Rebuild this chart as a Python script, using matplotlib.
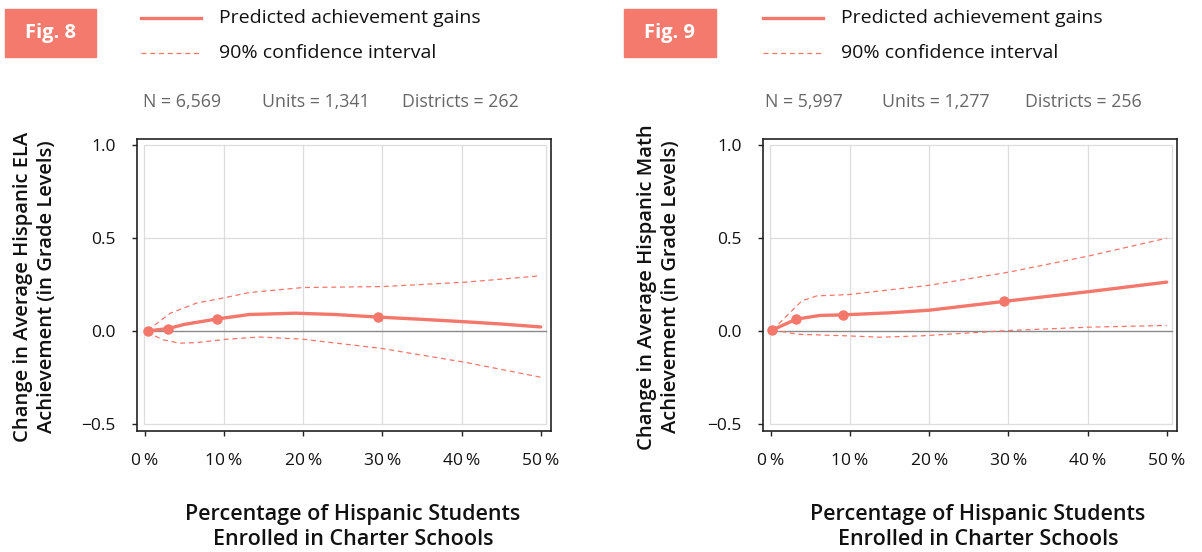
import numpy as np
import matplotlib
matplotlib.use("Agg")
from matplotlib import pyplot as plt
from matplotlib.patches import Rectangle

plt.rcParams['font.family'] = ['Open Sans', 'DejaVu Sans']

# ELA (Fig. 8)
ela_x = [0.4, 2.9, 5, 9.1, 13.2, 19, 24, 29.5, 35, 40, 45, 50]
ela_y = [0, 0.012, 0.035, 0.064, 0.088, 0.095, 0.088, 0.074, 0.062, 0.05, 0.037, 0.021]
ela_pts_x = [0.4, 2.9, 9.1, 29.5]
ela_pts_y = [0, 0.012, 0.064, 0.074]
ela_hi_x = [0.4, 1, 3.2, 6.5, 9.1, 13.2, 20, 30, 40.6, 50]
ela_hi_y = [0, 0.023, 0.095, 0.149, 0.17, 0.206, 0.233, 0.238, 0.262, 0.296]
ela_lo_x = [0.4, 1, 2.3, 4.4, 6.5, 10.3, 14.5, 20, 30, 40.6, 50]
ela_lo_y = [0, -0.022, -0.048, -0.066, -0.063, -0.045, -0.033, -0.045, -0.095, -0.17, -0.249]

# Math (Fig. 9)
math_x = [0.2, 3.2, 6.2, 9.1, 15, 20, 29.4, 40.2, 50]
math_y = [0.005, 0.063, 0.083, 0.086, 0.097, 0.111, 0.158, 0.211, 0.262]
math_pts_x = [0.2, 3.2, 9.1, 29.4]
math_pts_y = [0.005, 0.063, 0.086, 0.158]
math_hi_x = [0.2, 3.9, 5.8, 9.8, 20, 30.1, 40.2, 50]
math_hi_y = [0.005, 0.161, 0.188, 0.195, 0.245, 0.316, 0.403, 0.498]
math_lo_x = [0.2, 3.3, 9.8, 13.8, 18.9, 30.1, 40.2, 50]
math_lo_y = [0.005, -0.018, -0.027, -0.034, -0.027, 0.002, 0.020, 0.029]

xticks = [0, 10, 20, 30, 40, 50]
xtick_labels = ['0\u2009%', '10\u2009%', '20\u2009%', '30\u2009%', '40\u2009%', '50\u2009%']
yticks = [-0.5, 0.0, 0.5, 1.0]
ytick_labels = ['\u22120.5', '0.0', '0.5', '1.0']

salmon = '#F4776B'
W, H = 1202, 552

fig = plt.figure(figsize=(W / 100, H / 100), dpi=100)


def px(x, y):
    return x / W, 1 - y / H


panels = [
    dict(left=137, fig='Fig. 8', badge=(5, 96), leg=(141, 201, 219),
         stats=[(143, 'N = 6,569'), (262, 'Units = 1,341'), (402, 'Districts = 262')],
         ylab='Change in Average Hispanic ELA\nAchievement (in Grade Levels)', ylx=35, xlx=353,
         x=ela_x, y=ela_y, px_=ela_pts_x, py_=ela_pts_y,
         hx=ela_hi_x, hy=ela_hi_y, lx=ela_lo_x, ly=ela_lo_y),
    dict(left=763, fig='Fig. 9', badge=(624, 716), leg=(763, 823, 841),
         stats=[(765, 'N = 5,997'), (882, 'Units = 1,277'), (1025, 'Districts = 256')],
         ylab='Change in Average Hispanic Math\nAchievement (in Grade Levels)', ylx=659, xlx=978,
         x=math_x, y=math_y, px_=math_pts_x, py_=math_pts_y,
         hx=math_hi_x, hy=math_hi_y, lx=math_lo_x, ly=math_lo_y),
]

for p in panels:
    l = p['left']
    ax = fig.add_axes([l / W, (H - 431) / H, 414 / W, (431 - 139) / H])
    ax.set_xlim(-1.0, 51.3)
    ax.set_ylim(-0.538, 1.031)

    # inner plot region + grid
    ax.add_patch(Rectangle((-0.1, -0.5), 50.75, 1.5, fill=False,
                           edgecolor='#DDDDDD', lw=0.9, zorder=0))
    for gx in [10, 20, 30, 40]:
        ax.plot([gx, gx], [-0.5, 1.0], color='#DDDDDD', lw=0.9, zorder=0)
    ax.plot([-0.1, 50.65], [0.5, 0.5], color='#DDDDDD', lw=0.9, zorder=0)
    ax.plot([-0.1, 50.65], [0, 0], color='#8A8A8A', lw=1.0, zorder=1)

    ax.plot(p['hx'], p['hy'], color=salmon, lw=0.9, ls=(0, (4, 3)), zorder=2)
    ax.plot(p['lx'], p['ly'], color=salmon, lw=0.9, ls=(0, (4, 3)), zorder=2)
    ax.plot(p['x'], p['y'], color=salmon, lw=2.4, solid_capstyle='round', zorder=3)
    ax.plot(p['px_'], p['py_'], 'o', color=salmon, ms=6.5, zorder=4)

    for s in ax.spines.values():
        s.set_color('#222222')
        s.set_linewidth(1.2)
    ax.set_xticks(xticks)
    ax.set_xticklabels(xtick_labels, fontsize=12.5)
    ax.set_yticks(yticks)
    ax.set_yticklabels(ytick_labels, fontsize=12.5)
    ax.tick_params(axis='x', length=3.5, width=1, pad=12, colors='#222222', labelcolor='#111111')
    ax.tick_params(axis='y', length=3.5, width=1, pad=12, colors='#222222', labelcolor='#111111')

    # badge
    b0, b1 = p['badge']
    fig.patches.append(Rectangle(px(b0, 57), (b1 - b0) / W, 48 / H,
                                 transform=fig.transFigure, color='#F47A6E', zorder=0))
    fig.text(*px((b0 + b1) / 2, 33), p['fig'], color='white', fontsize=14.5,
             fontweight='bold', ha='center', va='center')

    # legend
    x0, x1, tx = p['leg']
    fig.lines.append(plt.Line2D([x0 / W, x1 / W], [1 - 18 / H] * 2, transform=fig.transFigure,
                                color=salmon, lw=2.4))
    fig.lines.append(plt.Line2D([x0 / W, x1 / W], [1 - 53 / H] * 2, transform=fig.transFigure,
                                color=salmon, lw=0.9, ls=(0, (4, 3))))
    fig.text(*px(tx, 18), 'Predicted achievement gains', fontsize=14, color='#111111',
             ha='left', va='center')
    fig.text(*px(tx, 53), '90% confidence interval', fontsize=14, color='#111111',
             ha='left', va='center')
    for sx, st in p['stats']:
        fig.text(*px(sx, 102), st, fontsize=12.8, color='#666666', ha='left', va='center')

    # axis titles
    fig.text(*px(p['ylx'], 287), p['ylab'], rotation=90, fontsize=14.5, fontweight='semibold',
             ha='center', va='center', multialignment='center', linespacing=1.25, color='#111111')
    fig.text(*px(p['xlx'], 527), 'Percentage of Hispanic Students\nEnrolled in Charter Schools',
             fontsize=15.5, fontweight='semibold', ha='center', va='center',
             multialignment='center', linespacing=1.25, color='#111111')

fig.savefig('out.png', dpi=100)
